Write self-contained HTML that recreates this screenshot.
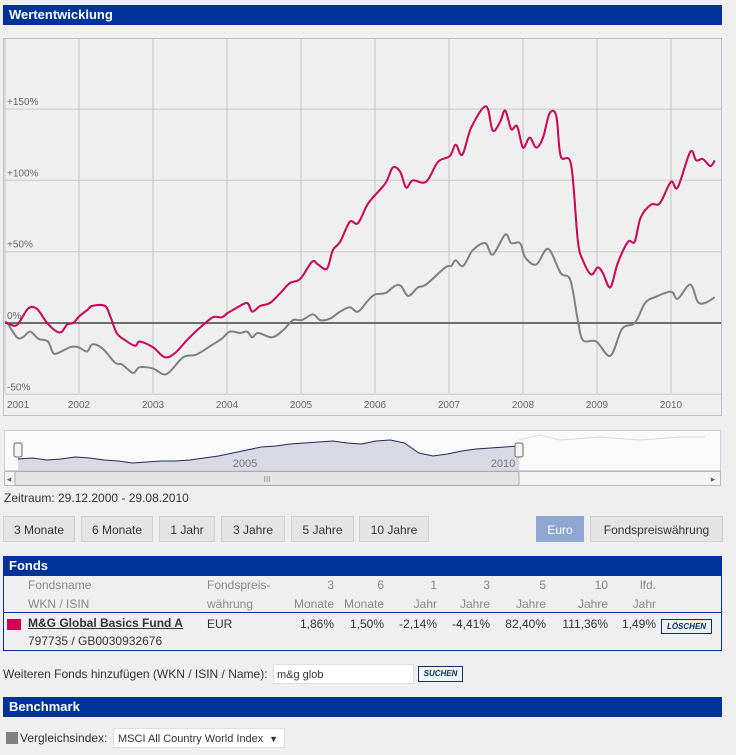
<!DOCTYPE html>
<html><head><meta charset="utf-8">
<style>
body{margin:0;width:736px;height:755px;background:#efefef;font-family:"Liberation Sans",sans-serif;position:relative;overflow:hidden;color:#333}
.bar{position:absolute;left:3px;width:719px;height:20px;background:#003399;color:#fff;font-weight:bold;font-size:13px;line-height:20px;padding-left:6px;box-sizing:border-box}
.btn{position:absolute;top:516px;height:26px;line-height:26px;background:#e4e4e4;border:1px solid #d0d0d0;font-size:12px;color:#333;text-align:center;box-sizing:border-box}
.t{position:absolute;font-size:12px;color:#888;text-align:right}
.v{position:absolute;font-size:12px;color:#333;text-align:right;top:617px}
</style></head><body>
<div class="bar" style="top:5px">Wertentwicklung</div>
<svg id="chart" style="position:absolute;left:0;top:0" width="736" height="490"></svg>
<div style="position:absolute;left:4px;top:491px;font-size:12px;color:#333">Zeitraum: 29.12.2000 - 29.08.2010</div>
<div class="btn" style="left:3px;width:72px">3 Monate</div>
<div class="btn" style="left:81px;width:72px">6 Monate</div>
<div class="btn" style="left:159px;width:56px">1 Jahr</div>
<div class="btn" style="left:221px;width:64px">3 Jahre</div>
<div class="btn" style="left:291px;width:63px">5 Jahre</div>
<div class="btn" style="left:359px;width:70px">10 Jahre</div>
<div class="btn" style="left:536px;width:48px;background:#8fa6d3;color:#fff;border-color:#8fa6d3">Euro</div>
<div class="btn" style="left:590px;width:133px">Fondspreiswährung</div>
<div class="bar" style="top:556px">Fonds</div>
<div style="position:absolute;left:3px;top:576px;width:719px;height:75px;border:1px solid #003399;border-top:none;box-sizing:border-box"></div>
<div style="position:absolute;left:3px;top:612px;width:719px;height:1px;background:#003399"></div>
<div class="t" style="left:28px;top:576px;text-align:left;line-height:19px">Fondsname<br>WKN / ISIN</div>
<div class="t" style="left:207px;top:576px;text-align:left;line-height:19px">Fondspreis-<br>währung</div>
<div class="t" style="left:280px;width:54px;top:576px;line-height:19px">3<br>Monate</div>
<div class="t" style="left:330px;width:54px;top:576px;line-height:19px">6<br>Monate</div>
<div class="t" style="left:390px;width:47px;top:576px;line-height:19px">1<br>Jahr</div>
<div class="t" style="left:440px;width:50px;top:576px;line-height:19px">3<br>Jahre</div>
<div class="t" style="left:496px;width:50px;top:576px;line-height:19px">5<br>Jahre</div>
<div class="t" style="left:560px;width:48px;top:576px;line-height:19px">10<br>Jahre</div>
<div class="t" style="left:620px;width:36px;top:576px;line-height:19px">lfd.<br>Jahr</div>
<div style="position:absolute;left:7px;top:619px;width:14px;height:11px;background:#cc0055"></div>
<div style="position:absolute;left:28px;top:616px;font-size:12px;font-weight:bold;text-decoration:underline;color:#333">M&amp;G Global Basics Fund A</div>
<div style="position:absolute;left:28px;top:634px;font-size:12px;color:#333">797735 / GB0030932676</div>
<div class="v" style="left:207px;text-align:left">EUR</div>
<div class="v" style="left:280px;width:54px">1,86%</div>
<div class="v" style="left:330px;width:54px">1,50%</div>
<div class="v" style="left:380px;width:57px">-2,14%</div>
<div class="v" style="left:430px;width:60px">-4,41%</div>
<div class="v" style="left:486px;width:60px">82,40%</div>
<div class="v" style="left:548px;width:60px">111,36%</div>
<div class="v" style="left:612px;width:44px">1,49%</div>
<div style="position:absolute;left:661px;top:619px;width:49px;height:13px;border:1px solid #003366;font-size:8px;font-weight:bold;font-style:italic;color:#003366;text-align:center;line-height:13px">LÖSCHEN</div>
<div style="position:absolute;left:3px;top:667px;font-size:12px;color:#333">Weiteren Fonds hinzufügen (WKN / ISIN / Name):</div>
<div style="position:absolute;left:273px;top:664px;width:141px;height:20px;background:#fff;border:1px solid #ddd;font-size:11px;line-height:20px;padding-left:3px;box-sizing:border-box">m&amp;g glob</div>
<div style="position:absolute;left:418px;top:666px;width:43px;height:14px;border:1px solid #003366;background:#f4f4f4;font-size:8px;font-weight:bold;font-style:italic;color:#003366;text-align:center;line-height:14px">SUCHEN</div>
<div class="bar" style="top:697px">Benchmark</div>
<div style="position:absolute;left:6px;top:732px;width:12px;height:12px;background:#808080"></div>
<div style="position:absolute;left:20px;top:731px;font-size:12px;color:#333">Vergleichsindex:</div>
<div style="position:absolute;left:113px;top:728px;width:172px;height:20px;background:#fff;border:1px solid #ddd;font-size:11px;line-height:20px;padding-left:4px;box-sizing:border-box">MSCI All Country World Index<span style="position:absolute;right:6px;top:0;font-size:9px">▼</span></div>
<script>
const yTicks=[150,100,50,0,-50];
const yTickLabels=["+150%","+100%","+50%","0%","-50%"];
const years=[2001,2002,2003,2004,2005,2006,2007,2008,2009,2010];
const fundDates=[2001.0,2001.03,2001.16,2001.31,2001.43,2001.57,2001.70,2001.77,2001.84,2001.92,2002.01,2002.11,2002.18,2002.35,2002.42,2002.51,2002.62,2002.76,2002.82,2003.0,2003.16,2003.30,2003.46,2003.64,2003.81,2003.93,2004.01,2004.11,2004.27,2004.34,2004.45,2004.58,2004.72,2004.85,2004.99,2005.15,2005.23,2005.35,2005.43,2005.53,2005.66,2005.77,2005.91,2006.14,2006.24,2006.34,2006.42,2006.51,2006.69,2006.85,2007.01,2007.09,2007.18,2007.30,2007.50,2007.59,2007.69,2007.76,2007.84,2007.92,2008.0,2008.09,2008.18,2008.27,2008.36,2008.45,2008.51,2008.65,2008.74,2008.81,2008.92,2009.01,2009.08,2009.18,2009.28,2009.42,2009.51,2009.59,2009.73,2009.85,2010.0,2010.09,2010.26,2010.34,2010.43,2010.53,2010.59];
const fundValues=[0,0,-1.5,10,10,0,-6,-6,-1,0,5,9,12,12,5,-7,-12,-16,-13,-17,-24,-21,-12,-3,4,4,7,10,14,8,12,14,21,28,31,43,41,38,51,57,71,70,84,98,109,106,95,100,99,113,117,125,118,137,152,135,141,149,136,138,123,130,123,130,147,145,117,111,58,44,34,39,35,25,42,57,57,74,83,84,99,95,120,114,115,110,114];
const benchDates=[2001.0,2001.03,2001.16,2001.24,2001.34,2001.45,2001.58,2001.65,2001.72,2001.88,2001.99,2002.11,2002.18,2002.32,2002.49,2002.58,2002.73,2002.82,2003.0,2003.14,2003.23,2003.41,2003.59,2003.81,2003.93,2004.04,2004.18,2004.27,2004.34,2004.42,2004.61,2004.76,2004.89,2005.01,2005.16,2005.26,2005.39,2005.53,2005.66,2005.77,2005.91,2006.0,2006.14,2006.27,2006.35,2006.45,2006.58,2006.69,2006.95,2007.03,2007.09,2007.19,2007.32,2007.49,2007.59,2007.76,2007.84,2007.96,2008.03,2008.18,2008.34,2008.51,2008.64,2008.74,2008.81,2008.99,2009.18,2009.34,2009.51,2009.65,2009.78,2010.0,2010.09,2010.26,2010.36,2010.46,2010.59];
const benchValues=[0,0,-10,-10,-6,-11,-13,-21,-21,-17,-17,-20,-15,-18,-28,-29,-35,-31,-32,-36,-34,-24,-22,-15,-11,-6,-7,-6,-10,-7,-10,-5,2,2,6,2,3,8,11,8,16,20,21,26,26,19,25,27,39,40,44,40,51,56,48,62,56,56,46,41,52,35,30,2,-12,-13,-23,-4,0,14,18,22,17,27,15,14,18];
const navValues=[8,9,7,8,10,9,7,6,4,5,6,6,7,9,11,14,17,20,21,23,24,25,26,24,23,26,27,24,14,11,13,16,18,19,20,21];

const NS="http://www.w3.org/2000/svg";
const svg=document.getElementById('chart');
function mk(tag,attrs,parent){const e=document.createElementNS(NS,tag);for(const k in attrs)e.setAttribute(k,attrs[k]);(parent||svg).appendChild(e);return e;}
const X0=5,X1=721,Y0=38,Y1=393;
const xScale=d=>X0+(d-2001)*74;
const yScale=v=>323-v*71.3/50;
let r=mk('rect',{x:3.5,y:Y0+0.5,width:718,height:377,fill:'#efefef',stroke:'#b8c0d4'});


yTicks.forEach((t,i)=>{
  if(t!==0){const l=mk('line',{x1:X0,x2:X1,y1:yScale(t),y2:yScale(t),stroke:'#d4d4d4','stroke-width':1.5});
  
  }
  const tx=mk('text',{x:7,y:yScale(t)-4,'font-size':10,fill:'#666','font-family':'Liberation Sans'});tx.textContent=yTickLabels[i];
  
  
});
years.forEach(y=>{
  const l=mk('line',{x1:xScale(y),x2:xScale(y),y1:Y0,y2:Y1,stroke:'#c4c4c4'});
  
  
  const tx=mk('text',{x:xScale(y)+(y===2001?2:0),y:408,'font-size':10,fill:'#666','text-anchor':y===2001?'start':'middle','font-family':'Liberation Sans'});tx.textContent=y;
  
  
});
const zl=mk('line',{x1:X0,x2:X1,y1:yScale(0),y2:yScale(0),stroke:'#444','stroke-width':1.5});


function path(ds,vs){
  const p=ds.map((d,i)=>[xScale(d),yScale(vs[i])]);
  let s='M'+p[0][0].toFixed(1)+','+p[0][1].toFixed(1);
  for(let i=0;i<p.length-1;i++){
    const p0=p[i-1]||p[i],p1=p[i],p2=p[i+1],p3=p[i+2]||p2;
    const c1=[p1[0]+(p2[0]-p0[0])/6,p1[1]+(p2[1]-p0[1])/6];
    const c2=[p2[0]-(p3[0]-p1[0])/6,p2[1]-(p3[1]-p1[1])/6];
    s+='C'+c1[0].toFixed(1)+','+c1[1].toFixed(1)+' '+c2[0].toFixed(1)+','+c2[1].toFixed(1)+' '+p2[0].toFixed(1)+','+p2[1].toFixed(1);
  }
  return s;
}
const bp=mk('path',{d:path(benchDates,benchValues),fill:'none',stroke:'#808080','stroke-width':2,'stroke-linejoin':'round'});


const fp=mk('path',{d:path(fundDates,fundValues),fill:'none',stroke:'#cc0055','stroke-width':2,'stroke-linejoin':'round'});


// navigator
const nb=mk('rect',{x:4.5,y:430.5,width:716,height:40,fill:'#fafafa',stroke:'#c8d0e4'});


const nx=i=>18+i*(501/(navValues.length-1));
const ny=v=>467-v;
let d='M18,470'+navValues.map((v,i)=>'L'+nx(i).toFixed(1)+','+ny(v)).join('')+'L519,470Z';
const na=mk('path',{d:d,fill:'#d8d9e4',stroke:'none'});


const nl=mk('path',{d:navValues.map((v,i)=>(i?'L':'M')+nx(i).toFixed(1)+','+ny(v)).join(''),fill:'none',stroke:'#1c2a5c','stroke-width':1});


const nl2=mk('path',{d:'M519,440 L540,435 L560,440 L600,437 L640,440 L680,437 L705,437',fill:'none',stroke:'#ddd','stroke-width':1});


[['2005',245],['2010',503]].forEach(a=>{const t=mk('text',{x:a[1],y:467,'font-size':11,fill:'#777','text-anchor':'middle','font-family':'Liberation Sans'});t.textContent=a[0];

});
[18,519].forEach(hx=>{const h=mk('rect',{x:hx-4,y:443,width:8,height:14,rx:2,fill:'#f4f4f4',stroke:'#666'});

});
const sb=mk('rect',{x:4.5,y:471.5,width:716,height:14,fill:'#f4f4f4',stroke:'#bbb'});


const th=mk('rect',{x:15,y:471.5,width:504,height:14,rx:2,fill:'#e4e4e4',stroke:'#aaa'});


const ta=mk('text',{x:267,y:482,'font-size':8,fill:'#888','text-anchor':'middle'});ta.textContent='III';


[['◂',9],['▸',713]].forEach(a=>{const t=mk('text',{x:a[1],y:482,'font-size':9,fill:'#666','text-anchor':'middle'});t.textContent=a[0];

});
</script>
</body></html>
